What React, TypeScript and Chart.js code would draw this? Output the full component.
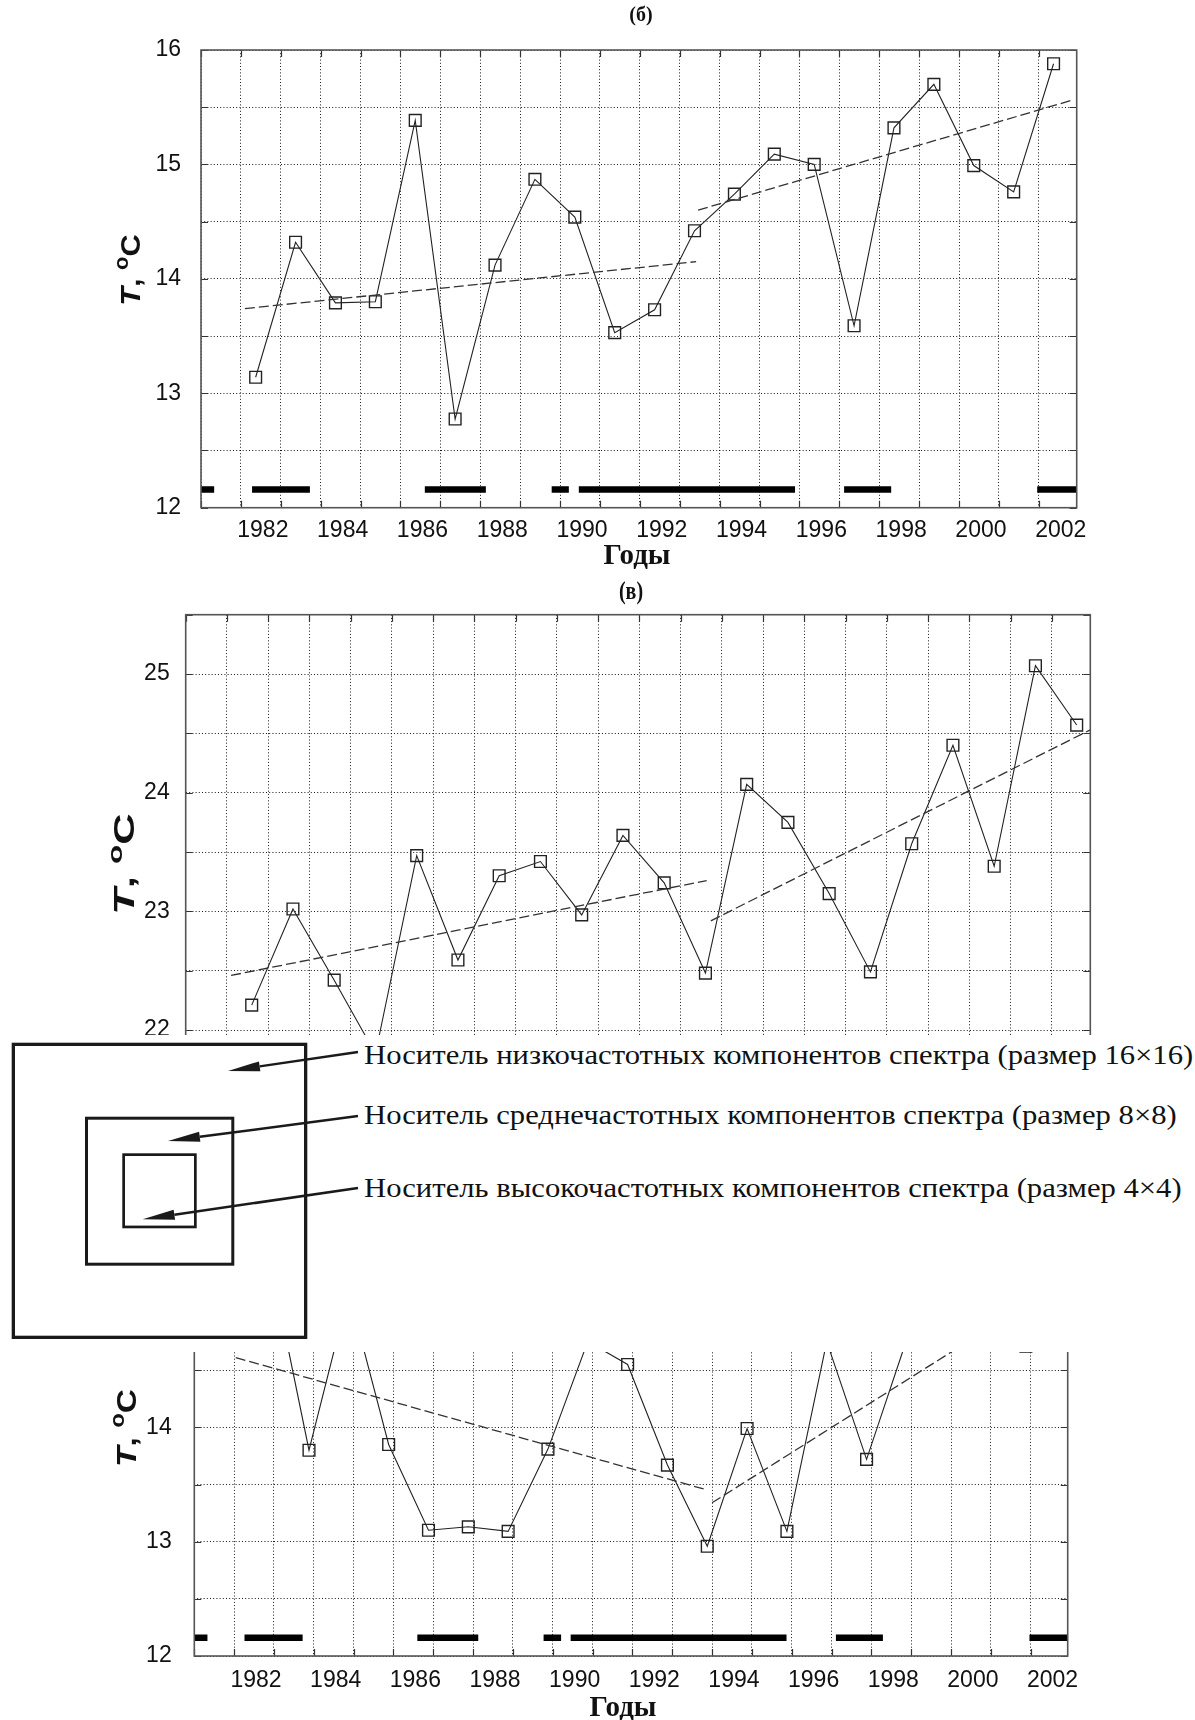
import React, { useEffect, useRef } from 'react';
import { Chart, registerables } from 'chart.js';

Chart.register(...registerables);

// ---------------- data ----------------
const years = [1982, 1983, 1984, 1985, 1986, 1987, 1988, 1989, 1990, 1991, 1992, 1993, 1994, 1995, 1996, 1997, 1998, 1999, 2000, 2001, 2002];
const xTickYears = [1982, 1984, 1986, 1988, 1990, 1992, 1994, 1996, 1998, 2000, 2002];
const xTickLabels = ['1982', '1984', '1986', '1988', '1990', '1992', '1994', '1996', '1998', '2000', '2002'];

// chart (б)
const tempB = [13.14, 14.32, 13.79, 13.8, 15.385, 12.775, 14.12, 14.87, 14.54, 13.53, 13.73, 14.42, 14.74, 15.09, 15.0, 13.59, 15.32, 15.7, 14.99, 14.76, 15.88];
const trendB1Years = [1981.73, 1993.04];
const trendB1Temps = [13.74, 14.15];
const trendB2Years = [1993.09, 2002.45];
const trendB2Temps = [14.6, 15.56];
const barsBStart = [1980.63, 1981.91, 1986.24, 1989.42, 1990.1, 1996.75, 2001.59];
const barsBEnd = [1980.96, 1983.36, 1987.77, 1989.85, 1995.52, 1997.93, 2002.58];

// chart (в)
const tempV = [22.21, 23.02, 22.42, 21.8, 23.47, 22.59, 23.3, 23.42, 22.97, 23.64, 23.24, 22.48, 24.07, 23.75, 23.15, 22.49, 23.57, 24.4, 23.38, 25.07, 24.57];
const trendV1Years = [1981.5, 1993.03];
const trendV1Temps = [22.46, 23.26];
const trendV2Years = [1993.13, 2002.33];
const trendV2Temps = [22.92, 24.53];

// chart (г)
const tempG = [15.5, 13.8, 15.18, 13.85, 13.1, 13.13, 13.09, 13.81, 14.75, 14.55, 13.67, 12.96, 13.99, 13.09, 14.75, 13.72, 14.76, 15.5, 15.3, 14.71, 15.2];
const trendG1Years = [1981.16, 1992.92];
const trendG1Temps = [14.61, 13.46];
const trendG2Years = [1993.12, 2002.0];
const trendG2Temps = [13.34, 15.29];
const barsGStart = [1980.12, 1981.38, 1985.72, 1988.89, 1989.57, 1996.23, 2001.09];
const barsGEnd = [1980.45, 1982.84, 1987.25, 1989.33, 1994.99, 1997.41, 2002.05];

const barLevel = 12.16;

const yTicksB = [12, 12.5, 13, 13.5, 14, 14.5, 15, 15.5, 16];
const yTicksV = [21, 21.5, 22, 22.5, 23, 23.5, 24, 24.5, 25, 25.5];
const yTicksG = [12, 12.5, 13, 13.5, 14, 14.5, 15, 15.5, 16];

const overlayLines = [
  'Носитель низкочастотных компонентов спектра (размер 16×16)',
  'Носитель среднечастотных компонентов спектра (размер 8×8)',
  'Носитель высокочастотных компонентов спектра (размер 4×4)',
];

// ---------------- layout ----------------
const PAGE_W = 1195;
const SANS = '"Liberation Sans", Arial, sans-serif';
const SERIF = '"Liberation Serif", "Times New Roman", serif';
const GRID_COLOR = 'rgba(0,0,0,0.9)';
const DOT = [1, 2.2];
const Y_AXIS_W = 80;
const X_AXIS_H = 45;

type Spec = {
  top: number; height: number;
  left: number; right: number; plotTop: number; plotBottom: number;
  xMin: number; xMax: number; yMin: number; yMax: number; yTicks: number[];
  series: number[];
  trends: number[][][];
  bars: number[][] | null;
  labelShift: number; showXLabels: boolean; xLabelPad: number; yLabelPad: number;
  title: { text: string; x: number; y: number; sy: number } | null;
  xTitle: { x: number; y: number } | null;
  yTitle: { x: number; y: number; size: number; stretch: number };
};

const SPECS: Spec[] = [
  {
    top: 0, height: 570, left: 201, right: 1076.7, plotTop: 50, plotBottom: 507.7,
    xMin: 1980.63, xMax: 2002.58, yMin: 12, yMax: 16, yTicks: yTicksB,
    series: tempB,
    trends: [[trendB1Years, trendB1Temps], [trendB2Years, trendB2Temps]],
    bars: [barsBStart, barsBEnd],
    labelShift: 0.18, showXLabels: true, xLabelPad: 11, yLabelPad: 20,
    title: { text: '(б)', x: 641, y: 15.5, sy: 1 },
    xTitle: { x: 637, y: 557 },
    yTitle: { x: 130, y: 270, size: 28, stretch: 1.1 },
  },
  {
    top: 570, height: 600, left: 185.7, right: 1090.3, plotTop: 614.7, plotBottom: 1148.7,
    xMin: 1980.4, xMax: 2002.33, yMin: 21, yMax: 25.5, yTicks: yTicksV,
    series: tempV,
    trends: [[trendV1Years, trendV1Temps], [trendV2Years, trendV2Temps]],
    bars: null,
    labelShift: 0, showXLabels: false, xLabelPad: 9, yLabelPad: 16,
    title: { text: '(в)', x: 631, y: 592.5, sy: 1.3 },
    xTitle: null,
    yTitle: { x: 124, y: 864, size: 29, stretch: 1.5 },
  },
  {
    top: 1150, height: 570, left: 194.3, right: 1067.7, plotTop: 1198.7, plotBottom: 1656,
    xMin: 1980.12, xMax: 2002.05, yMin: 12, yMax: 16, yTicks: yTicksG,
    series: tempG,
    trends: [[trendG1Years, trendG1Temps], [trendG2Years, trendG2Temps]],
    bars: [barsGStart, barsGEnd],
    labelShift: -0.33, showXLabels: true, xLabelPad: 13.5, yLabelPad: 22.6,
    title: null,
    xTitle: { x: 623, y: 1708.5 },
    yTitle: { x: 126, y: 1428, size: 28, stretch: 1.2 },
  },
];

function drawCenteredText(ctx: CanvasRenderingContext2D, text: string, x: number, y: number, font: string, sy: number) {
  ctx.save();
  ctx.translate(x, y);
  ctx.scale(1, sy);
  ctx.font = font;
  ctx.fillStyle = '#111';
  ctx.textAlign = 'center';
  ctx.textBaseline = 'middle';
  ctx.fillText(text, 0, 0);
  ctx.restore();
}

function drawYTitle(ctx: CanvasRenderingContext2D, cx: number, cy: number, size: number, stretch: number) {
  ctx.save();
  ctx.translate(cx, cy);
  ctx.rotate(-Math.PI / 2);
  ctx.scale(stretch, 1);
  ctx.fillStyle = '#111';
  ctx.textBaseline = 'alphabetic';
  ctx.textAlign = 'left';
  const small = Math.round(size * 0.72);
  const parts = [
    { t: 'T', f: `italic bold ${size}px ${SANS}`, dy: 0 },
    { t: ', ', f: `bold ${size}px ${SANS}`, dy: 0 },
    { t: 'o', f: `bold ${small}px ${SANS}`, dy: -size * 0.42 },
    { t: 'C', f: `bold ${size}px ${SANS}`, dy: 0 },
  ];
  let total = 0;
  const widths = parts.map((p) => { ctx.font = p.f; const w = ctx.measureText(p.t).width; total += w; return w; });
  let x = -total / 2;
  const base = size * 0.36;
  parts.forEach((p, i) => { ctx.font = p.f; ctx.fillText(p.t, x, base + p.dy); x += widths[i]; });
  ctx.restore();
}

function buildConfig(s: Spec): any {
  const gridVals = Array.from({ length: 22 }, (_, k) => s.xMin + k);
  const labelVals = xTickYears.map((y) => y + s.labelShift);
  const datasets: any[] = [];
  if (s.bars) {
    const pts: any[] = [];
    s.bars[0].forEach((a, i) => {
      const b = s.bars![1][i];
      pts.push({ x: a, y: barLevel }, { x: b, y: barLevel }, { x: b, y: null });
    });
    datasets.push({ data: pts, borderColor: '#000', borderWidth: 6.5, pointRadius: 0, spanGaps: false, borderCapStyle: 'butt', tension: 0 });
  }
  s.trends.forEach(([xs, ys]) => {
    datasets.push({
      data: xs.map((x, i) => ({ x, y: ys[i] })),
      borderColor: '#333', borderWidth: 1.3, borderDash: [10, 4], pointRadius: 0, tension: 0,
    });
  });
  datasets.push({
    data: years.map((x, i) => ({ x, y: s.series[i] })),
    borderColor: '#222', borderWidth: 1.1, tension: 0,
    pointStyle: 'rect', pointRadius: 8.3, pointBorderWidth: 1.4,
    pointBorderColor: '#222', pointBackgroundColor: 'rgba(0,0,0,0)',
  });

  const decor = {
    id: 'decor',
    afterDatasetsDraw(chart: any) {
      const { ctx, chartArea: a, scales } = chart;
      const xs = scales.x, ys = scales.y;
      ctx.save();
      ctx.setLineDash([]);
      ctx.strokeStyle = '#333';
      ctx.lineWidth = 1.2;
      ctx.beginPath();
      xs.ticks.forEach((t: any) => {
        const px = Math.round(xs.getPixelForValue(t.value)) + 0.5;
        ctx.moveTo(px, a.bottom); ctx.lineTo(px, a.bottom - 7);
        ctx.moveTo(px, a.top); ctx.lineTo(px, a.top + 7);
      });
      ys.ticks.forEach((t: any) => {
        const py = Math.round(ys.getPixelForValue(t.value)) + 0.5;
        ctx.moveTo(a.left, py); ctx.lineTo(a.left + 7, py);
        ctx.moveTo(a.right, py); ctx.lineTo(a.right - 7, py);
      });
      ctx.stroke();
      ctx.strokeStyle = '#555';
      ctx.lineWidth = 1.6;
      ctx.strokeRect(a.left, a.top, a.right - a.left, a.bottom - a.top);
      ctx.restore();
    },
    afterDraw(chart: any) {
      const ctx = chart.ctx;
      if (s.title) drawCenteredText(ctx, s.title.text, s.title.x, s.title.y - s.top, `bold 20px ${SERIF}`, s.title.sy);
      if (s.xTitle) drawCenteredText(ctx, 'Годы', s.xTitle.x, s.xTitle.y - s.top, `bold 29px ${SERIF}`, 1);
      drawYTitle(ctx, s.yTitle.x, s.yTitle.y - s.top, s.yTitle.size, s.yTitle.stretch);
    },
  };

  const bottomSpace = s.top + s.height - s.plotBottom;
  const xlHeight = s.showXLabels ? X_AXIS_H : 0;
  return {
    type: 'line',
    data: { datasets },
    plugins: [decor],
    options: {
      animation: false,
      responsive: false,
      maintainAspectRatio: false,
      devicePixelRatio: 1,
      layout: {
        padding: {
          left: s.left - Y_AXIS_W,
          right: PAGE_W - s.right,
          top: s.plotTop - s.top,
          bottom: bottomSpace - xlHeight,
        },
      },
      plugins: { legend: { display: false }, tooltip: { enabled: false }, title: { display: false } },
      scales: {
        x: {
          type: 'linear', min: s.xMin, max: s.xMax, position: 'bottom',
          afterBuildTicks: (sc: any) => { sc.ticks = gridVals.map((v) => ({ value: v })); },
          afterFit: (sc: any) => { sc.height = 0; sc.paddingLeft = 0; sc.paddingRight = 0; },
          ticks: { display: false },
          grid: { color: GRID_COLOR, lineWidth: 1, drawTicks: false, borderDash: DOT },
          border: { display: false, dash: DOT },
        },
        xl: {
          type: 'linear', min: s.xMin, max: s.xMax, position: 'bottom', display: s.showXLabels,
          afterBuildTicks: (sc: any) => { sc.ticks = labelVals.map((v) => ({ value: v })); },
          afterFit: (sc: any) => { sc.height = xlHeight; sc.paddingLeft = 0; sc.paddingRight = 0; },
          ticks: {
            autoSkip: false, maxRotation: 0, minRotation: 0, padding: s.xLabelPad, color: '#111',
            font: { family: SANS, size: 23, lineHeight: 1 },
            callback: (_v: any, i: number) => xTickLabels[i],
          },
          grid: { display: false, drawTicks: false },
          border: { display: false },
        },
        y: {
          type: 'linear', min: s.yMin, max: s.yMax, position: 'left',
          afterBuildTicks: (sc: any) => { sc.ticks = s.yTicks.map((v) => ({ value: v })); },
          afterFit: (sc: any) => { sc.width = Y_AXIS_W; sc.paddingTop = 0; sc.paddingBottom = 0; },
          ticks: {
            autoSkip: false, padding: s.yLabelPad, color: '#111',
            font: { family: SANS, size: 23, lineHeight: 1 },
            callback: (v: any) => (Number.isInteger(v) ? String(v) : ''),
          },
          grid: { color: GRID_COLOR, lineWidth: 1, drawTicks: false, borderDash: DOT },
          border: { display: false, dash: DOT },
        },
      },
    },
  };
}

function TempChart({ spec }: { spec: Spec }) {
  const ref = useRef<HTMLCanvasElement | null>(null);
  useEffect(() => {
    const canvas = ref.current;
    if (!canvas) return;
    const chart = new Chart(canvas, buildConfig(spec));
    return () => chart.destroy();
  }, [spec]);
  return (
    <canvas
      ref={ref}
      width={PAGE_W}
      height={spec.height}
      style={{ position: 'absolute', left: 0, top: spec.top, width: PAGE_W, height: spec.height }}
    />
  );
}

const OV_TOP = 1035;
const OV_H = 317;
const squares = [
  { x: 13.35, y: 1044.35, w: 292.3, h: 293, sw: 3.3 },
  { x: 86.5, y: 1118.2, w: 146.3, h: 146, sw: 3 },
  { x: 123.65, y: 1154.65, w: 71.7, h: 72.3, sw: 2.7 },
];
const arrows = [
  { x1: 358, y1: 1052, x2: 228, y2: 1071 },
  { x1: 358, y1: 1116, x2: 168, y2: 1141 },
  { x1: 358, y1: 1188, x2: 142.7, y2: 1219.3 },
];
const lineTops = [1041, 1101, 1174];

function Overlay() {
  return (
    <div style={{ position: 'absolute', left: 0, top: OV_TOP, width: PAGE_W, height: OV_H, background: '#fff', zIndex: 10 }}>
      <svg width={PAGE_W} height={OV_H} style={{ position: 'absolute', left: 0, top: 0 }}>
        {squares.map((q, i) => (
          <rect key={i} x={q.x} y={q.y - OV_TOP} width={q.w} height={q.h} fill="none" stroke="#1a1a1a" strokeWidth={q.sw} />
        ))}
        {arrows.map((a, i) => {
          const dx = a.x1 - a.x2, dy = a.y1 - a.y2;
          const len = Math.hypot(dx, dy);
          const ux = dx / len, uy = dy / len;
          const L = 32, W = 5;
          const bx = a.x2 + ux * L, by = a.y2 + uy * L;
          const nx = -uy, ny = ux;
          const pts = `${a.x2},${a.y2 - OV_TOP} ${bx + nx * W},${by + ny * W - OV_TOP} ${bx - nx * W},${by - ny * W - OV_TOP}`;
          return (
            <g key={i}>
              <line x1={a.x1} y1={a.y1 - OV_TOP} x2={bx} y2={by - OV_TOP} stroke="#1a1a1a" strokeWidth={2.5} />
              <polygon points={pts} fill="#1a1a1a" />
            </g>
          );
        })}
      </svg>
      {overlayLines.map((t, i) => (
        <div
          key={i}
          style={{
            position: 'absolute', left: 364, top: lineTops[i] - OV_TOP,
            fontFamily: SERIF, fontSize: 28, lineHeight: '28px', whiteSpace: 'nowrap', color: '#111',
            transform: 'scaleX(1.095)', transformOrigin: '0 0',
          }}
        >
          {t}
        </div>
      ))}
    </div>
  );
}

export default function App() {
  return (
    <div style={{ position: 'absolute', left: 0, top: 0, width: PAGE_W, height: 1720, background: '#fff', overflow: 'hidden' }}>
      {SPECS.map((s, i) => (
        <TempChart key={i} spec={s} />
      ))}
      <Overlay />
    </div>
  );
}
